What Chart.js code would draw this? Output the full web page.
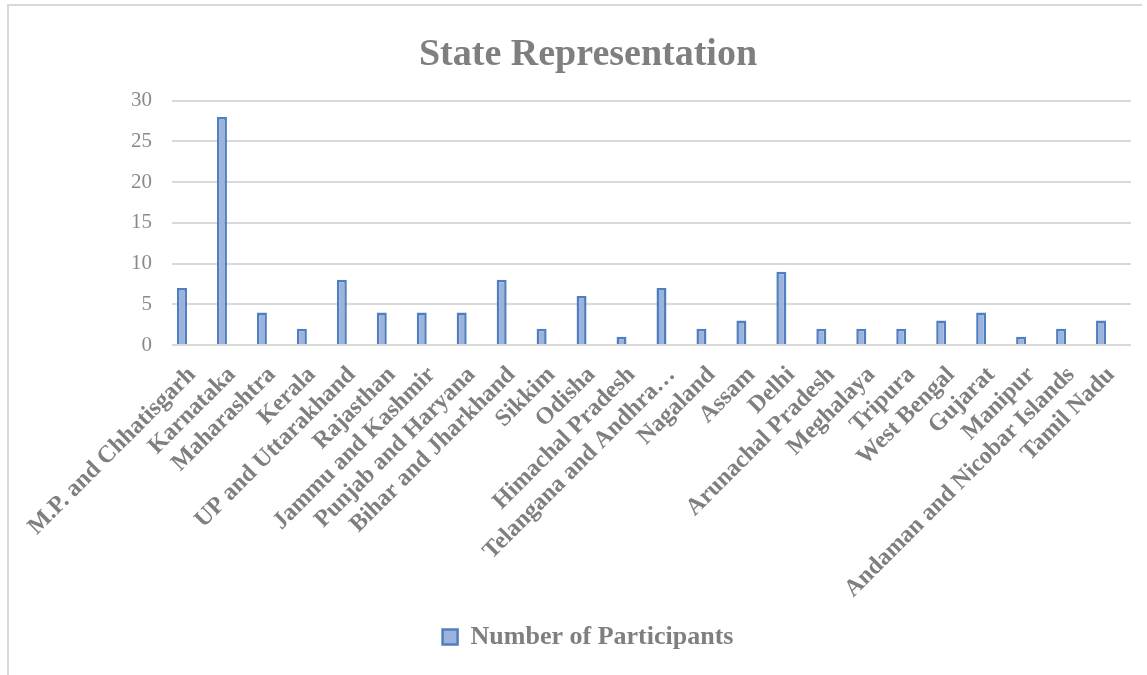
<!DOCTYPE html>
<html>
<head>
<meta charset="utf-8">
<script src="https://cdn.jsdelivr.net/npm/chart.js@4.4.1/dist/chart.umd.min.js"></script>
<style>
html,body{margin:0;padding:0;background:#fff;}
#wrap{position:relative;width:1147px;height:675px;}
#frame{position:absolute;left:7px;top:4px;width:1135px;height:680px;border-left:2px solid #d9d9d9;border-top:2px solid #d9d9d9;box-sizing:border-box;pointer-events:none;}
canvas{position:absolute;left:0;top:0;}
</style>
</head>
<body>
<div id="wrap">
<canvas id="chart" width="1147" height="675"></canvas>
<div id="frame"></div>
</div>
<script>
// ===== State Representation =====
const STATES=['M.P. and Chhatisgarh','Karnataka','Maharashtra','Kerala','UP and Uttarakhand','Rajasthan','Jammu and Kashmir','Punjab and Haryana','Bihar and Jharkhand','Sikkim','Odisha','Himachal Pradesh','Telangana and Andhra…','Nagaland','Assam','Delhi','Arunachal Pradesh','Meghalaya','Tripura','West Bengal','Gujarat','Manipur','Andaman and Nicobar Islands','Tamil Nadu'];
const PARTICIPANTS=[7,28,4,2,8,4,4,4,8,2,6,1,7,2,3,9,2,2,2,3,4,1,2,3];
const Y_TICKS=[0,5,10,15,20,25,30];
const SERIES_NAME='Number of Participants';

const GREY='#7f7f7f',GRID='#d9d9d9',SERIF='"Liberation Serif","DejaVu Serif",serif';
const empty=STATES.map(()=>null);

const ctx=document.getElementById('chart').getContext('2d');
new Chart(ctx,{
  type:'bar',
  data:{labels:STATES,datasets:[
    {label:SERIES_NAME,data:PARTICIPANTS,backgroundColor:'#9cb3db',borderColor:'#4f7fc0',borderWidth:2.5,borderSkipped:'bottom',categoryPercentage:0.75,barPercentage:1},
    // two empty slots keep the bar left of the category centre, as in the source
    {label:'_a',data:empty,categoryPercentage:0.75,barPercentage:1},
    {label:'_b',data:empty,categoryPercentage:0.75,barPercentage:1},
  ]},
  options:{responsive:false,animation:false,
    layout:{padding:{left:45,right:16,top:0,bottom:15}},
    plugins:{
      title:{display:true,text:'State Representation',color:GREY,font:{family:SERIF,size:38,weight:'bold'},padding:{top:32,bottom:23}},
      legend:{position:'bottom',labels:{color:GREY,font:{family:SERIF,size:26,weight:'bold'},boxWidth:15,boxHeight:15,padding:10,
        filter:i=>!i.text.startsWith('_')}},
      tooltip:{enabled:false}
    },
    scales:{
      x:{grid:{display:false},border:{display:false},
        ticks:{color:GREY,font:{family:SERIF,size:24,weight:'bold'},minRotation:45,maxRotation:45,autoSkip:false,padding:8},
        afterFit:s=>{s.height=269;}},
      y:{min:0,max:30,border:{display:false},grid:{color:GRID,lineWidth:2,drawTicks:false},
        afterBuildTicks:s=>{s.ticks=Y_TICKS.map(v=>({value:v}));},
        ticks:{color:'#8a8a8a',font:{family:SERIF,size:21},padding:20},
        afterFit:s=>{s.width=127;}}
    }
  }
});
</script>
</body>
</html>
